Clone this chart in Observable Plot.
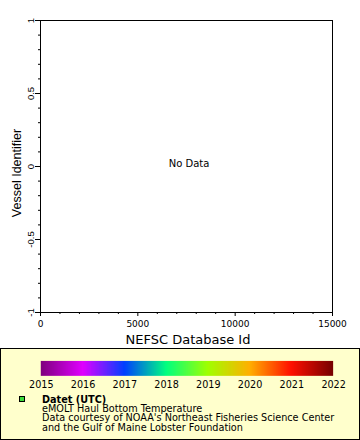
<!DOCTYPE html>
<html>
<head>
<meta charset="utf-8">
<script src="https://cdn.jsdelivr.net/npm/d3@7"></script>
<script src="https://cdn.jsdelivr.net/npm/@observablehq/plot@0.6"></script>
<style>
  html, body { margin: 0; padding: 0; background: #fff; }
  #chart { width: 360px; }
  #legend { position: relative; width: 360px; height: 92px; box-sizing: border-box; border: 1px solid #000; background: #ffffcc; overflow: hidden; }
  #legend svg { position: absolute; left: -1px; top: -1px; }
</style>
</head>
<body>
<div id="chart"></div>
<div id="legend"></div>
<script>
// ---- data (none available: "No Data") ----
const xDomain = [0, 15000];
const yDomain = [-1, 1];
const xMajor = [0, 5000, 10000, 15000];
const xMinor = [1000, 2000, 3000, 4000, 6000, 7000, 8000, 9000, 11000, 12000, 13000, 14000];
const yMajor = [-1, -0.5, 0, 0.5, 1];
const yMajorLabels = ["-1", "-0.5", "0", "0.5", "1"];
const yMinor = [-0.9, -0.8, -0.7, -0.6, -0.4, -0.3, -0.2, -0.1, 0.1, 0.2, 0.3, 0.4, 0.6, 0.7, 0.8, 0.9];
const xTitle = "NEFSC Database Id";
const yTitle = "Vessel Identifier";
const emptyMessage = "No Data";
const years = [2015, 2016, 2017, 2018, 2019, 2020, 2021, 2022];
const yearColors = ["#800080", "#e000ff", "#0040ff", "#00ff80", "#a0ff00", "#ffb000", "#ff1000", "#780000"];
const legendTitle = "Datet (UTC)";
const legendLines = [
  "eMOLT Haul Bottom Temperature",
  "Data courtesy of NOAA's Northeast Fisheries Science Center",
  "and the Gulf of Maine Lobster Foundation"
];

// ---- main plot ----
const chart = Plot.plot({
  width: 360,
  height: 348,
  marginLeft: 40,
  marginRight: 28,
  marginTop: 20,
  marginBottom: 36,
  x: {domain: xDomain},
  y: {domain: yDomain},
  style: {fontFamily: "DejaVu Sans", fontSize: "9px", background: "#fff", color: "#000"},
  marks: [
    Plot.frame({stroke: "#000", strokeWidth: 1}),
    Plot.axisX(xMinor, {tickSize: 2, tickFormat: () => "", label: null, stroke: "#000"}),
    Plot.axisX(xMajor, {tickSize: 4, tickPadding: 4.5, tickFormat: "d", label: null, stroke: "#000", fill: "#000", fontSize: 9}),
    Plot.axisY(yMinor, {tickSize: 2, tickFormat: () => "", label: null, stroke: "#000"}),
    Plot.axisY(yMajor, {tickSize: 5, tickFormat: () => "", label: null, stroke: "#000"}),
    Plot.text(yMajor, {
      y: d => d, text: (d, i) => yMajorLabels[i], frameAnchor: "left", rotate: -90,
      textAnchor: "middle", lineAnchor: "middle", dx: -10,
      fontFamily: "Liberation Sans", fontSize: 9.5, fill: "#000"
    }),
    Plot.text([yTitle], {
      text: d => d, frameAnchor: "left", rotate: -90, textAnchor: "middle", lineAnchor: "middle",
      dx: -23.5, dy: 6.5, fontFamily: "Liberation Sans", fontSize: 12.5, fill: "#000"
    }),
    Plot.text([xTitle], {
      text: d => d, frameAnchor: "bottom", lineAnchor: "top", dx: 1.5, dy: 21.8,
      fontSize: 13, fill: "#000"
    }),
    Plot.text([emptyMessage], {
      text: d => d, frameAnchor: "middle", lineAnchor: "middle", dx: 2.5, dy: -3.2,
      fontSize: 10, fill: "#000"
    })
  ]
});
document.getElementById("chart").appendChild(chart);

// ---- legend ----
const legendBox = document.getElementById("legend");
const ramp = Plot.legend({
  color: {type: "linear", domain: years, range: yearColors, interpolate: "rgb"},
  width: 360,
  height: 50,
  marginTop: 13,
  marginBottom: 22,
  marginLeft: 41,
  marginRight: 25,
  ticks: years,
  tickFormat: "d",
  tickSize: 2,
  label: null,
  style: {fontFamily: "DejaVu Sans", fontSize: "9.7px", background: "transparent", color: "#000", overflow: "visible"}
});
ramp.querySelectorAll(".tick line").forEach(l => l.remove());
legendBox.appendChild(ramp);

const ns = "http://www.w3.org/2000/svg";
const over = document.createElementNS(ns, "svg");
over.setAttribute("width", 360);
over.setAttribute("height", 92);
over.setAttribute("font-family", "DejaVu Sans");
over.setAttribute("font-size", "9.7");
const sq = document.createElementNS(ns, "rect");
sq.setAttribute("x", 19.5); sq.setAttribute("y", 48.5);
sq.setAttribute("width", 5); sq.setAttribute("height", 5);
sq.setAttribute("fill", "#3cdc3c"); sq.setAttribute("stroke", "#000"); sq.setAttribute("stroke-width", 1);
over.appendChild(sq);
const baselines = [54.5, 64, 73.3, 82.6];
[legendTitle, ...legendLines].forEach((t, i) => {
  const tx = document.createElementNS(ns, "text");
  tx.setAttribute("x", 42);
  tx.setAttribute("y", baselines[i]);
  if (i === 0) tx.setAttribute("font-weight", "bold");
  tx.textContent = t;
  over.appendChild(tx);
});
legendBox.appendChild(over);
</script>
</body>
</html>
